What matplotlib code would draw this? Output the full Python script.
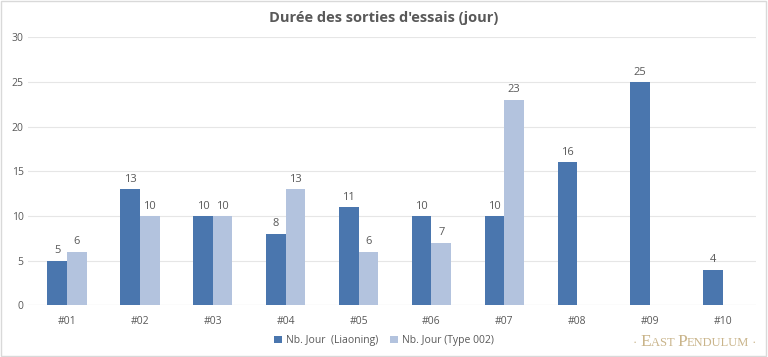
import numpy as np
import matplotlib.pyplot as plt

plt.rcParams['font.family'] = ['Open Sans', 'DejaVu Sans']

categories = ['#01', '#02', '#03', '#04', '#05', '#06', '#07', '#08', '#09', '#10']
liaoning = [5, 13, 10, 8, 11, 10, 10, 16, 25, 4]
type002 = [6, 10, 10, 13, 6, 7, 23, None, None, None]

dark = '#4a76ae'
light = '#b3c3de'
text_col = '#595959'
gold = '#c9b48a'

fig = plt.figure(figsize=(7.68, 3.57), dpi=100)
ax = fig.add_axes([0.037, 0.145, 0.948, 0.75])

x = np.arange(len(categories))
w = 0.27
b1 = ax.bar(x - w / 2, liaoning, w, color=dark, label='Nb. Jour  (Liaoning)', zorder=3)
t_vals = [v if v is not None else 0 for v in type002]
b2 = ax.bar(x + w / 2, t_vals, w, color=light, label='Nb. Jour (Type 002)', zorder=3)

for xi, v in zip(x, liaoning):
    ax.text(xi - w / 2, v + 0.5, str(v), ha='center', va='bottom', fontsize=8, color=text_col)
for xi, v in zip(x, type002):
    if v is not None:
        ax.text(xi + w / 2, v + 0.5, str(v), ha='center', va='bottom', fontsize=8, color=text_col)

ax.set_xlim(-0.53, 9.46)
ax.set_ylim(0, 30)
ax.set_yticks(range(0, 31, 5))
ax.set_xticks(x)
ax.set_xticklabels(categories)
ax.tick_params(axis='both', length=0, labelsize=7.5, colors=text_col)
ax.tick_params(axis='x', pad=8)
ax.grid(axis='y', color='#e6e6e6', linewidth=0.8, zorder=0)
for s in ax.spines.values():
    s.set_visible(False)
ax.axhline(0, color='#d9d9d9', linewidth=0.8, zorder=2)

fig.suptitle("Durée des sorties d'essais (jour)", y=0.97, fontsize=10.5,
             fontweight='bold', color=text_col)

fig.legend(handles=[b1, b2], loc='center', bbox_to_anchor=(0.5, 0.045), ncol=2,
           frameon=False, fontsize=7.5, handlelength=0.7, handleheight=0.7,
           columnspacing=1.2, handletextpad=0.4, labelcolor=text_col)

fig.patches.append(plt.Rectangle((0.001, 0.002), 0.997, 0.995, transform=fig.transFigure,
                                 fill=False, edgecolor='#d9d9d9', linewidth=1))

# watermark: small-caps look built from chained pieces
serif = ['Liberation Serif', 'DejaVu Serif']
pieces = [('· ', 9), ('E', 12.5), ('AST ', 9), ('P', 12.5), ('ENDULUM', 9), (' ·', 9)]
wm_y = 0.03
wm = [fig.text(0.824, wm_y, txt, fontsize=size, color=gold, family=serif,
               ha='left', va='baseline') for txt, size in pieces]

fig.canvas.draw()
renderer = fig.canvas.get_renderer()
x0 = wm[0].get_window_extent(renderer).x1
for t in wm[1:]:
    t.set_position((x0 / fig.bbox.width, wm_y))
    x0 = t.get_window_extent(renderer).x1

fig.savefig('out.png', dpi=100)
